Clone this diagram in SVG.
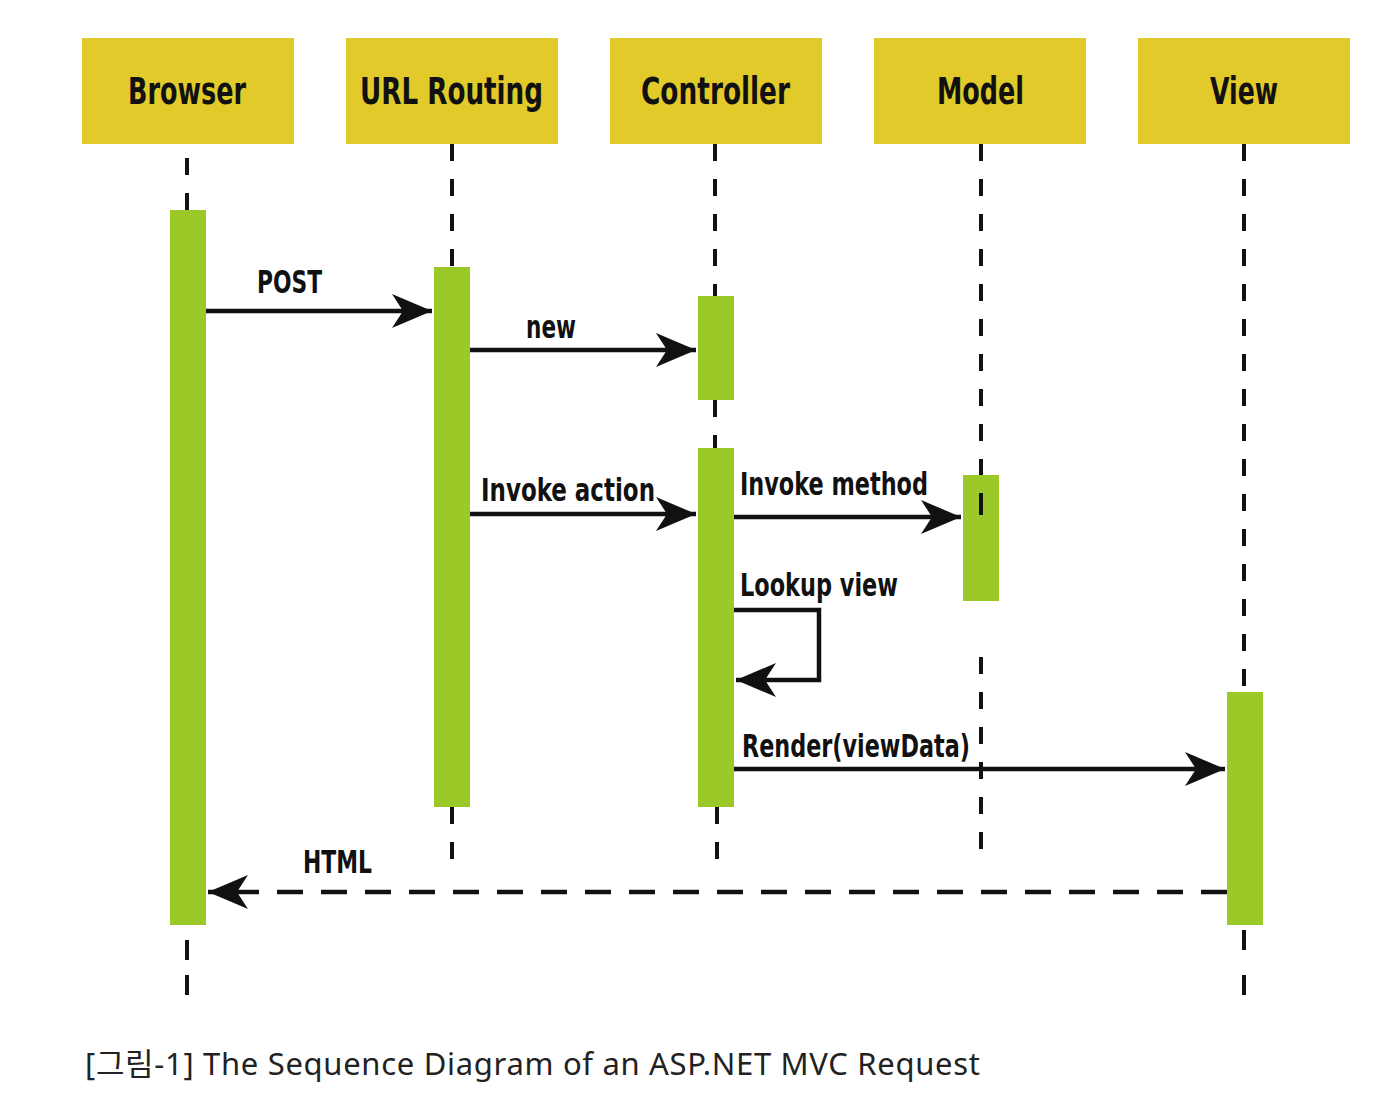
<svg xmlns="http://www.w3.org/2000/svg" width="1400" height="1102" viewBox="0 0 1400 1102">
<defs>
<style>
.hdr{fill:#E2CA2A}
.hdrt{font-family:"DejaVu Sans Condensed","Liberation Sans Narrow","Liberation Sans",sans-serif;font-weight:bold;font-size:37px;fill:#111}
.act{fill:#9BC928}
.life{stroke:#111;stroke-width:4;stroke-dasharray:17 18;fill:none}
.msg{stroke:#111;stroke-width:4.5;fill:none}
.ret{stroke:#111;stroke-width:4.5;fill:none;stroke-dasharray:26 18}
.lbl{font-family:"DejaVu Sans Condensed","Liberation Sans Narrow","Liberation Sans",sans-serif;font-weight:bold;font-size:32px;fill:#111}
.cap{font-family:"Noto Sans","Noto Sans CJK KR",sans-serif;font-size:31px;fill:#222}
</style>
<marker id="arr" markerUnits="userSpaceOnUse" viewBox="-42 -18 43 36" markerWidth="43" markerHeight="36" refX="0" refY="0" orient="auto">
<path d="M0,0 L-40,-17 L-29,0 L-40,17 Z" fill="#111"/>
</marker>
</defs>
<rect width="1400" height="1102" fill="#fff"/>

<g id="lifelines">
<path class="life" d="M187,158 V210"/>
<path class="life" d="M187,940 V997" style="stroke-dasharray:20 15"/>
<path class="life" d="M452,144 V267 M452,807 V860"/>
<path class="life" d="M715,144 V296 M715,400 V448 M717,807 V860"/>
<path class="life" d="M981,144 V475 M981,657 V860"/>
<path class="life" d="M1244,144 V692"/>
<path class="life" d="M1244,930 V997" style="stroke-dasharray:20 25"/>
</g>

<g id="browser">
<rect class="hdr" x="82" y="38" width="212" height="106"/>
<text class="hdrt" x="128" y="104" textLength="118" lengthAdjust="spacingAndGlyphs">Browser</text>
<rect class="act" x="170" y="210" width="36" height="715"/>
</g>
<g id="urlrouting">
<rect class="hdr" x="346" y="38" width="212" height="106"/>
<text class="hdrt" x="360" y="104" textLength="183" lengthAdjust="spacingAndGlyphs">URL Routing</text>
<rect class="act" x="434" y="267" width="36" height="540"/>
</g>
<g id="controller">
<rect class="hdr" x="610" y="38" width="212" height="106"/>
<text class="hdrt" x="641" y="104" textLength="149" lengthAdjust="spacingAndGlyphs">Controller</text>
<rect class="act" x="698" y="296" width="36" height="104"/>
<rect class="act" x="698" y="448" width="36" height="359"/>
</g>
<g id="model">
<rect class="hdr" x="874" y="38" width="212" height="106"/>
<text class="hdrt" x="937" y="104" textLength="87" lengthAdjust="spacingAndGlyphs">Model</text>
<rect class="act" x="963" y="475" width="36" height="126"/>
<path d="M981,493 V515" stroke="#111" stroke-width="4"/>
</g>
<g id="view">
<rect class="hdr" x="1138" y="38" width="212" height="106"/>
<text class="hdrt" x="1210" y="104" textLength="68" lengthAdjust="spacingAndGlyphs">View</text>
<rect class="act" x="1227" y="692" width="36" height="233"/>
</g>

<g id="connectors">
<path class="msg" d="M206,311 H432" marker-end="url(#arr)"/>
<path class="msg" d="M470,350 H696" marker-end="url(#arr)"/>
<path class="msg" d="M470,514 H696" marker-end="url(#arr)"/>
<path class="msg" d="M734,517 H961" marker-end="url(#arr)"/>
<path class="msg" d="M734,610 H819 V680 H736" marker-end="url(#arr)"/>
<path class="msg" d="M734,769 H1225" marker-end="url(#arr)"/>
<path class="ret" d="M1227,892 H208" marker-end="url(#arr)"/>
</g>

<g id="labels">
<text class="lbl" x="257" y="293" textLength="65" lengthAdjust="spacingAndGlyphs">POST</text>
<text class="lbl" x="526" y="338" textLength="50" lengthAdjust="spacingAndGlyphs">new</text>
<text class="lbl" x="481" y="501" textLength="174" lengthAdjust="spacingAndGlyphs">Invoke action</text>
<text class="lbl" x="740" y="495" textLength="188" lengthAdjust="spacingAndGlyphs">Invoke method</text>
<text class="lbl" x="740" y="596" textLength="158" lengthAdjust="spacingAndGlyphs">Lookup view</text>
<text class="lbl" x="742" y="757" textLength="228" lengthAdjust="spacingAndGlyphs">Render(viewData)</text>
<text class="lbl" x="303" y="873" textLength="69" lengthAdjust="spacingAndGlyphs">HTML</text>
</g>

<text class="cap" x="85" y="1075" textLength="895">[그림-1] The Sequence Diagram of an ASP.NET MVC Request</text>
</svg>
